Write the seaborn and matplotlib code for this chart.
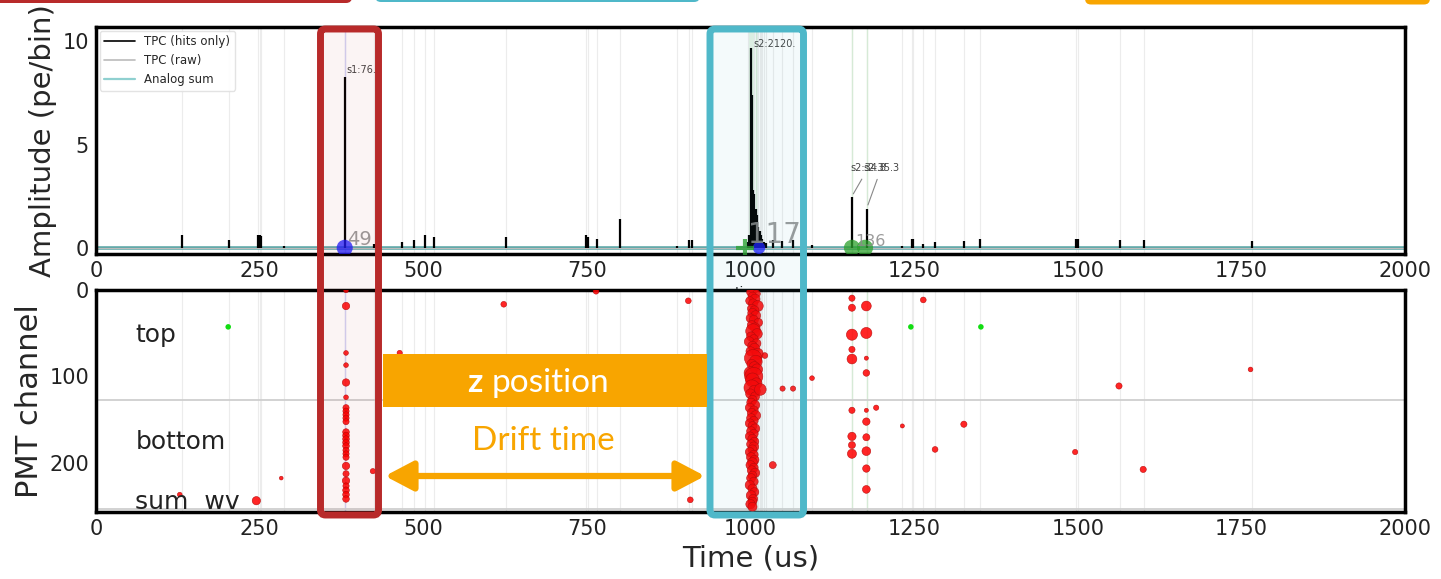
import matplotlib
matplotlib.use("Agg")
import matplotlib.pyplot as plt
from matplotlib.patches import FancyBboxPatch, FancyArrowPatch, Rectangle
from matplotlib.lines import Line2D
from matplotlib.transforms import IdentityTransform
import pandas as pd
import seaborn as sns

# ---------------- data ----------------
# summed TPC waveform (hits only): time [us] and amplitude [pe/bin]
hit_time = [131, 203, 248, 250, 252, 287, 380, 425, 467, 486, 502, 516, 626, 749, 752, 765, 800,
            887, 906, 910,
            996, 998, 1000, 1002, 1004, 1006, 1008, 1010, 1012, 1014, 1016, 1018, 1020, 1024,
            1034, 1048, 1065, 1094, 1155, 1178, 1231, 1246, 1249, 1264, 1282, 1326, 1351,
            1497, 1500, 1565, 1601, 1766]
hit_amp = [0.6, 0.4, 0.6, 0.6, 0.55, 0.1, 8.3, 0.2, 0.3, 0.4, 0.6, 0.5, 0.5, 0.6, 0.5, 0.45, 1.4,
           0.1, 0.4, 0.4,
           0.3, 0.6, 9.7, 7.4, 2.8, 2.6, 1.9, 1.6, 1.0, 0.8, 0.6, 0.45, 0.3, 0.25,
           0.4, 0.35, 0.4, 0.15, 2.45, 1.9, 0.1, 0.45, 0.45, 0.2, 0.3, 0.35, 0.45,
           0.45, 0.45, 0.4, 0.4, 0.35]

# reconstructed peaks
peak_label = ["s1:76.2", "s2:2120.", "s2:34.8", "s2:35.3"]
peak_time = [380, 1000, 1155, 1178]
peak_top = [8.3, 9.7, 2.45, 1.9]

# number of contributing hits per peak group
count_label = ["49", "117", "136"]
count_time = [403, 1037, 1183]
count_size = [14, 20, 11.5]

# peak-finder markers on the baseline
mark_time = [380, 1013, 1155, 1175]
mark_kind = ["s1", "s1", "s2", "s2"]
mark_area = [135, 80, 135, 135]
plus_time = [992]

# PMT hits: S1 column
s1_ch = [1, 19, 73, 87, 107, 124, 136, 140, 144, 148, 152, 164, 168, 172, 176, 180,
         185, 189, 193, 203, 212, 220, 226, 231, 236, 241]
s1_area = [8, 20, 8, 8, 20, 8, 14, 14, 14, 14, 14, 16, 16, 16, 16, 16,
           14, 14, 14, 20, 14, 20, 14, 16, 16, 16]
s1_t = 382

# PMT hits: S2 column
s2_ch = [0, 3, 5, 8, 11, 13, 16, 19, 22, 24,
         27, 30, 33, 35, 38, 41, 44, 48, 51, 54,
         57, 60, 62, 65, 68, 71, 74, 79, 83, 86,
         89, 92, 96, 100, 104, 108, 113, 117, 120, 123,
         127, 130, 133, 136, 139, 142, 145, 148, 151, 154,
         157, 160, 163, 166, 169, 172, 175, 178, 181, 184,
         187, 190, 193, 196, 199, 202, 205, 208, 211, 214,
         217, 221, 225, 229, 233, 237, 241, 244, 247, 250]
s2_t = [1005, 1001, 1009, 1003, 1007, 999, 1004, 1011, 1002, 1006,
        1003, 1008, 1000, 1005, 1012, 1002, 1007, 1004, 1010, 1001,
        1005, 998, 1009, 1003, 1006, 1000, 1011, 1004, 1008, 1002,
        1006, 1010, 1000, 1005, 1003, 1009, 1002, 1006, 1000, 1007,
        1003, 1001, 1007, 999, 1005, 1002, 1008, 1001, 1005, 999,
        1003, 1007, 1001, 1005, 999, 1003, 1006, 1001, 1005, 1003,
        999, 1005, 1001, 1006, 1003, 1000, 1005, 1002, 1007, 1003,
        1001, 1005, 999, 1003, 1006, 1001, 1004, 1003, 1000, 1003]
s2_area = [25, 30, 22, 28, 35, 25, 30, 45, 28, 30,
           32, 35, 28, 30, 26, 30, 35, 80, 40, 30,
           28, 35, 30, 32, 40, 30, 45, 110, 60, 35,
           40, 45, 60, 120, 70, 45, 90, 50, 35, 30,
           30, 28, 32, 30, 28, 30, 35, 30, 28, 30,
           28, 32, 30, 28, 30, 32, 28, 30, 35, 30,
           30, 28, 32, 30, 35, 30, 28, 30, 32, 28,
           30, 28, 32, 30, 28, 35, 30, 28, 32, 30]

# PMT hits: everything else
lone_t = [128, 245, 283, 423, 464, 623, 764, 905, 908,
          1022, 1015, 1049, 1065, 1094, 1034,
          1155, 1155, 1155, 1155, 1155, 1155, 1155, 1155, 1155,
          1177, 1177, 1177, 1177, 1177, 1177, 1177, 1177, 1177, 1177,
          1192, 1264, 1232, 1282, 1326, 1563, 1496, 1600, 1764]
lone_ch = [236, 243, 217, 209, 73, 17, 2, 13, 242,
           76, 115, 114, 114, 102, 202,
           10, 21, 52, 69, 80, 139, 169, 179, 189,
           19, 50, 79, 96, 139, 152, 170, 186, 206, 230,
           136, 12, 157, 184, 155, 111, 187, 207, 92]
lone_area = [8, 25, 5, 10, 10, 12, 12, 12, 12,
             12, 50, 10, 10, 8, 18,
             14, 18, 45, 14, 35, 14, 25, 18, 30,
             35, 45, 6, 16, 6, 20, 18, 28, 20, 22,
             10, 12, 6, 12, 14, 14, 10, 14, 8]

# isolated hits flagged separately
green_t = [202, 1245, 1352]
green_ch = [43, 43, 43]

tick_x = [0, 250, 500, 750, 1000, 1250, 1500, 1750, 2000]

# ---------------- style ----------------
sns.set_style("white")
plt.rcParams["font.family"] = ["DejaVu Sans"]

W, H = 1441, 579
fig = plt.figure(figsize=(W / 100, H / 100), dpi=100)
ax1 = fig.add_axes([96 / W, 1 - 254 / H, (1405 - 96) / W, (254 - 27) / H])
ax2 = fig.add_axes([96 / W, 1 - 512 / H, (1405 - 96) / W, (512 - 289.5) / H])

ORANGE = "#f8a500"
RED_BOX = "#b82a2a"
CYAN_BOX = "#4fb8c9"

# faint guide lines at each hit time, in both panels
for ax in (ax1, ax2):
    for t in sorted(set(hit_time)):
        ax.axvline(t, color="#ececec", lw=0.8, zorder=0)
    ax.axvline(380, color="#d2d2f4", lw=1.0, zorder=0)
    for t in (1000, 1008, 1155, 1178):
        ax.axvline(t, color="#d6ead6", lw=1.0, zorder=0)
ax1.axvspan(997, 1006, color="#e4f2e4", lw=0, zorder=0)

# ---- top panel: summed waveform ----
ax1.plot([0, 2000], [0, 0], color="#5fa9a9", lw=2.6, zorder=1)
ax1.plot([0, 2000], [0, 0], color="#bbbbbb", lw=0.8, zorder=1)
ax1.vlines(hit_time, 0, hit_amp, color="black", lw=1.6, zorder=3)

marks = pd.DataFrame({"time": mark_time, "amp": [0.0] * len(mark_time),
                      "kind": mark_kind, "area": mark_area})
sns.scatterplot(data=marks, x="time", y="amp", hue="kind", size="area",
                sizes=(80, 135), size_norm=(80, 135),
                palette={"s1": "#1a1aff", "s2": "#2ca02c"}, alpha=0.75,
                edgecolor="none", legend=False, ax=ax1, zorder=4)
ax1.scatter(plus_time, [0.0], marker="+", s=160, color="#2ca02c", lw=3, alpha=0.8, zorder=4)

for lab, t, fs in zip(count_label, count_time, count_size):
    ax1.text(t, -0.05, lab, ha="center", va="bottom", fontsize=fs, color="#8a8a8a",
             alpha=0.85, zorder=5)

ax1.text(382, 8.45, peak_label[0], fontsize=7, color="#444444", zorder=5)
ax1.text(1004, 9.75, peak_label[1], fontsize=7, color="#444444", zorder=5)
ax1.annotate(peak_label[2], xy=(peak_time[2], peak_top[2] + 0.05), xytext=(1152, 3.7),
             fontsize=7, color="#444444",
             arrowprops=dict(arrowstyle="-", color="#888888", lw=0.8), zorder=5)
ax1.annotate(peak_label[3], xy=(peak_time[3], peak_top[3] + 0.05), xytext=(1172, 3.7),
             fontsize=7, color="#444444",
             arrowprops=dict(arrowstyle="-", color="#888888", lw=0.8), zorder=5)

handles = [Line2D([], [], color="black", lw=1.2),
           Line2D([], [], color="#bbbbbb", lw=1.2),
           Line2D([], [], color="#8fd0d0", lw=1.6)]
ax1.legend(handles, ["TPC (hits only)", "TPC (raw)", "Analog sum"], loc="upper left",
           fontsize=8.5, frameon=True, framealpha=0.9, edgecolor="#e0e0e0",
           borderaxespad=0.3, handlelength=2.6)

ax1.set_xlim(0, 2000)
ax1.set_ylim(-0.3, 10.7)
ax1.set_xticks(tick_x)
ax1.set_yticks([0, 5, 10])
ax1.set_ylabel("Amplitude (pe/bin)", fontsize=21)

# ---- bottom panel: PMT hits ----
hits = pd.DataFrame({
    "time": [s1_t] * len(s1_ch) + s2_t + lone_t,
    "channel": s1_ch + s2_ch + lone_ch,
    "area": s1_area + s2_area + lone_area,
})
sns.scatterplot(data=hits, x="time", y="channel", size="area", sizes=(6, 170),
                size_norm=(4, 120), color="#ff0000", alpha=0.85, edgecolor="#b00000",
                linewidth=0.4, legend=False, ax=ax2, zorder=3)
sns.scatterplot(x=green_t, y=green_ch, color="#11dd11", s=16, edgecolor="none",
                legend=False, ax=ax2, zorder=3)
ax2.axhline(127, color="#cfcfcf", lw=1.3, zorder=1)
ax2.axhline(252, color="#cfcfcf", lw=1.3, zorder=1)

ax2.text(60, 52, "top", fontsize=18, va="center", color="#222222")
ax2.text(60, 175, "bottom", fontsize=18, va="center", color="#222222")
ax2.text(60, 244, "sum  wv", fontsize=18, va="center", color="#222222")

ax2.set_xlim(0, 2000)
ax2.set_ylim(256, 0)
ax2.set_xticks(tick_x)
ax2.set_yticks([0, 100, 200])
ax2.set_xlabel("Time (us)", fontsize=21)
ax2.set_ylabel("PMT channel", fontsize=22)

for ax in (ax1, ax2):
    ax.tick_params(direction="in", length=13, width=2.5, labelsize=15, pad=5,
                   colors="black", labelcolor="#222222")
    for sp in ax.spines.values():
        sp.set_linewidth(2.5)
        sp.set_color("black")

# ---------------- overlay annotations (pixel coordinates) ----------------
ident = IdentityTransform()


def box(x0, y0, x1, y1, edge, face, lw, r, z=10):
    p = FancyBboxPatch((x0, H - y1), x1 - x0, y1 - y0,
                       boxstyle=f"round,pad=0,rounding_size={r}",
                       transform=ident, facecolor=face, edgecolor=edge, lw=lw, zorder=z)
    fig.add_artist(p)


# S1 and S2 windows
box(320.5, 29, 378.5, 515, RED_BOX, (0.72, 0.16, 0.16, 0.05), 5.0, 5)
box(710, 29, 803.5, 515, CYAN_BOX, (0.31, 0.72, 0.79, 0.06), 5.0, 5)
# tabs from the header row
box(-20, -30, 352, 3, "none", RED_BOX, 0, 6)
box(375, -30, 700, 2, "none", CYAN_BOX, 0, 6)
box(1085, -30, 1430, 4.5, "none", ORANGE, 0, 6)

# z position bar
fig.add_artist(Rectangle((383, H - 407), 707 - 383, 407 - 354, transform=ident,
                         facecolor=ORANGE, edgecolor="none", zorder=10))
fig.text(467 / W, 1 - 383 / H, "z", fontsize=24, fontweight="bold", color="white",
         family=["Lato", "DejaVu Sans"], ha="left", va="center", zorder=11)
fig.text(492 / W, 1 - 383 / H, "position", fontsize=24, color="white",
         family=["Lato", "DejaVu Sans"], ha="left", va="center", zorder=11)

# drift time arrow
fig.text(543 / W, 1 - 441 / H, "Drift time", fontsize=24, color=ORANGE,
         family=["Lato", "DejaVu Sans"], ha="center", va="center", zorder=11)
fig.add_artist(FancyArrowPatch((385, H - 476), (705, H - 476),
                               arrowstyle="<|-|>,head_length=0.95,head_width=0.5",
                               mutation_scale=18, lw=4.5, color=ORANGE,
                               transform=ident, shrinkA=0, shrinkB=0, zorder=11))

fig.savefig("out.png", dpi=100)
